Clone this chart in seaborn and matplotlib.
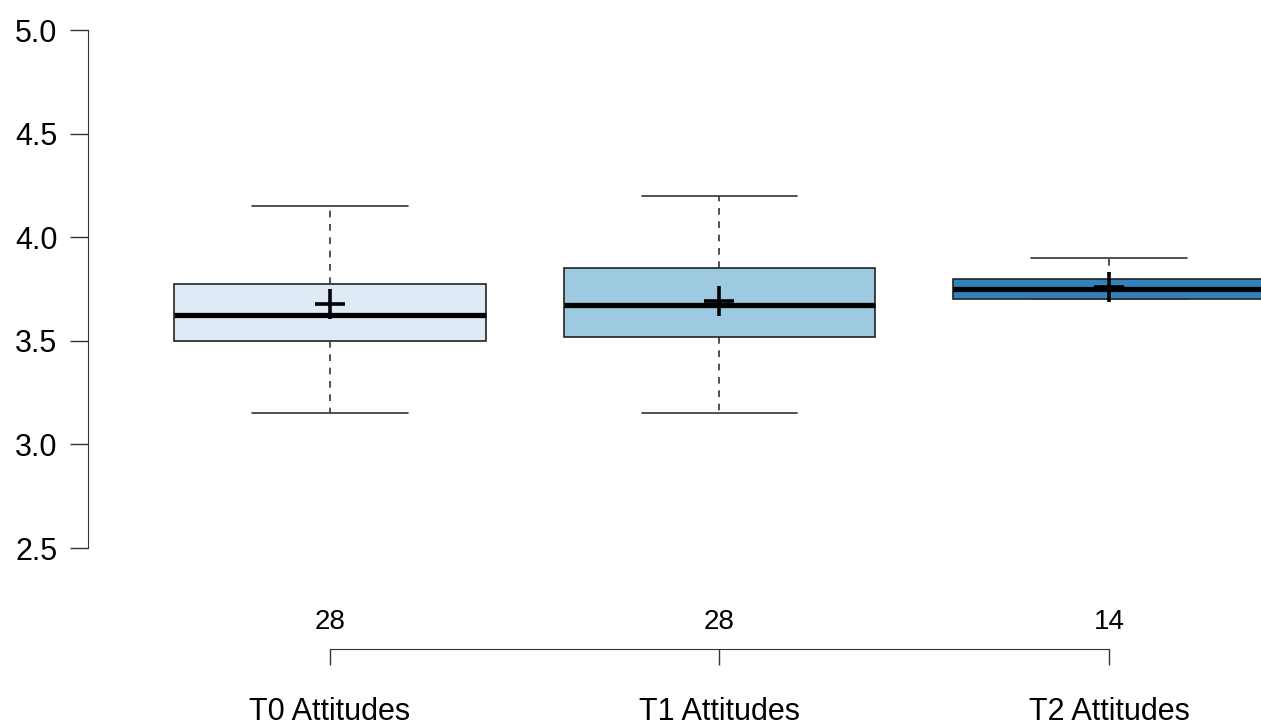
#%%% libraries
import numpy as np
import pandas as pd
import matplotlib
matplotlib.use('Agg')
import matplotlib.pyplot as plt
import seaborn as sns

#%%% data
groups = ['T0 Attitudes', 'T1 Attitudes', 'T2 Attitudes']
lowWhisker = [3.15, 3.15, 3.70]
q1 = [3.50, 3.52, 3.70]
median = [3.625, 3.675, 3.75]
q3 = [3.775, 3.85, 3.80]
highWhisker = [4.15, 4.20, 3.90]
means = [3.68, 3.69, 3.76]
counts = [28, 28, 14]
colors = ['#DEEBF7', '#9ECAE1', '#3182BD']

# five-number summary per group -> long table for seaborn
rows = []
for i, g in enumerate(groups):
    for v in [lowWhisker[i], q1[i], median[i], q3[i], highWhisker[i]]:
        rows.append({'group': g, 'score': v})
df = pd.DataFrame(rows)

#%%% plot
sns.set_style('ticks')
plt.rcParams['font.family'] = ['Liberation Sans', 'DejaVu Sans']
plt.rcParams['text.color'] = 'black'
plt.rcParams['xtick.labelcolor'] = 'black'
plt.rcParams['ytick.labelcolor'] = 'black'

fig = plt.figure(figsize=(12.61, 7.26), dpi=100)
ax = fig.add_axes([88/1261, 1 - 548/726, 1 - 88/1261, (548 - 30)/726])

sns.boxplot(data=df, x='group', y='score', hue='group', order=groups,
            palette=colors, saturation=1, width=0.8, legend=False,
            linecolor='#222222', linewidth=1.2, capwidths=0.4,
            whiskerprops=dict(linestyle=(0, (4, 4)), color='#333333'),
            capprops=dict(color='#333333'),
            medianprops=dict(color='black', linewidth=3.8),
            ax=ax)

# means as plus markers
ax.plot(range(len(groups)), means, ls='none', marker='+', markersize=21,
        mew=2.6, color='black', zorder=5)

ax.set_ylim(2.5, 5.0)
ax.set_xlim(-0.6213, 2.3903)
ax.set_yticks([2.5, 3.0, 3.5, 4.0, 4.5, 5.0])
ax.set_yticklabels(['2.5', '3.0', '3.5', '4.0', '4.5', '5.0'])
ax.set_xlabel('')
ax.set_ylabel('')

for s in ['top', 'right']:
    ax.spines[s].set_visible(False)
ax.spines['left'].set_color('#333333')
ax.spines['bottom'].set_color('#333333')
ax.spines['bottom'].set_position(('outward', 72.7))
ax.spines['bottom'].set_bounds(0, 2)
ax.tick_params(axis='y', length=13, width=1, color='#333333', pad=9,
               labelsize=22, labelcolor='black')
ax.tick_params(axis='x', length=11.5, width=1, color='#333333', pad=23,
               labelsize=22, labelcolor='black')

# sample sizes above the bracket
for i, n in enumerate(counts):
    ax.text(i, (548 - 622)/518, str(n), transform=ax.get_xaxis_transform(),
            ha='center', va='center', fontsize=20, color='black',
            clip_on=False)

fig.savefig('out.png', dpi=100)
